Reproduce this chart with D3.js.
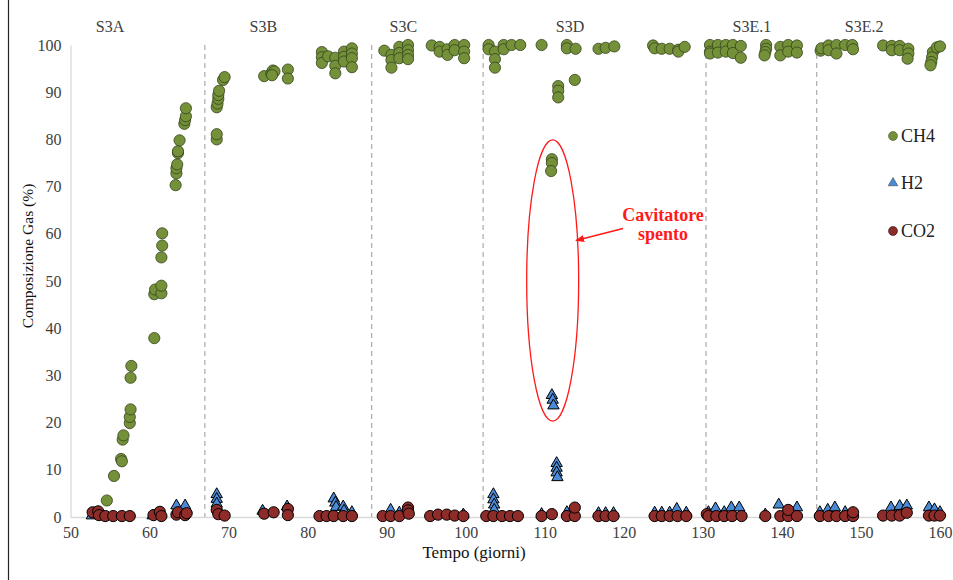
<!DOCTYPE html>
<html><head><meta charset="utf-8">
<script src="https://cdn.jsdelivr.net/npm/d3@7"></script>
<style>body{margin:0;background:#fff}svg{display:block}</style>
</head><body>
<svg id="chart" width="953" height="580"></svg>
<script>
// ---- data (day, %) ----
const ch4 = [
 [54.6,3.5],[55.5,8.7],[56.4,12.3],[56.5,11.8],[56.6,16.4],[56.7,17.3],[57.5,19.9],[57.5,21.2],[57.6,22.8],[57.6,29.5],[57.7,32.0],
 [60.6,37.9],[60.6,47.2],[60.7,48.2],[61.5,47.4],[61.5,49.0],[61.5,55.0],[61.6,57.5],[61.6,60.1],
 [63.3,70.3],[63.4,72.8],[63.4,73.9],[63.5,74.7],[63.6,77.1],[63.6,77.5],[63.8,79.8],[64.4,83.3],[64.5,84.1],[64.6,84.9],[64.6,86.6],
 [68.5,80.0],[68.5,81.1],[68.5,86.8],[68.6,87.6],[68.7,88.6],[68.7,89.4],[68.8,90.3],[69.3,92.6],[69.5,93.2],
 [74.5,93.4],[75.4,94.0],[75.6,94.6],[75.8,94.4],[75.5,93.6],[77.5,94.8],[77.5,92.9],
 [81.8,98.5],[81.8,97.4],[81.8,96.2],[82.6,97.6],[83.5,97.3],[83.5,95.6],[83.5,94.0],[84.6,98.6],[84.6,97.5],[84.6,96.5],
 [85.6,99.3],[85.6,98.2],[85.6,97.2],[85.6,95.3],
 [89.7,98.8],[90.6,97.9],[90.6,96.8],[90.6,95.2],[91.6,99.6],[91.6,98.3],[91.6,97.2],[92.7,100],[92.7,98.9],[92.7,97.9],[92.7,97.0],
 [95.7,99.9],[96.7,99.6],[96.7,98.6],[97.7,99.1],[97.7,97.9],[98.6,100],[98.6,98.9],[99.8,100],[99.8,98.6],[99.8,97.2],
 [102.9,100],[102.9,99.1],[103.7,98.6],[103.7,97.0],[103.7,95.2],[104.8,100],[104.8,99.1],[105.8,100],[106.9,100],[109.6,100],
 [110.9,75.8],[110.9,75.0],[110.8,73.3],[111.7,91.3],[111.7,90.3],[111.7,88.9],[113.8,92.6],[112.8,100],[112.8,99.3],[113.9,99.2],
 [116.8,99.2],[117.7,99.4],[118.8,99.7],[123.7,99.9],[123.9,99.3],[124.8,99.2],[125.8,99.2],[126.9,99.0],[126.9,98.6],[127.7,99.6],
 [130.9,100],[130.9,98.6],[130.9,98.2],[131.9,100],[131.9,98.4],[132.9,100],[132.9,98.6],[133.8,100],[133.8,98.3],[134.8,99.8],[134.8,97.3],
 [138.0,100],[138.0,99.2],[137.9,98.5],[137.8,97.8],[139.8,99.6],[139.8,97.8],[140.8,100],[140.8,98.6],[141.9,99.9],[141.9,98.4],
 [144.9,98.8],[145.0,99.3],[145.9,99.9],[145.9,98.9],[146.9,100],[146.9,98.2],[148.0,100],[148.9,100],[149.0,99.1],
 [152.8,99.9],[153.9,99.8],[153.9,98.9],[154.9,99.8],[154.9,98.9],[156.0,99.2],[156.0,98.2],[155.9,97.1],
 [159.1,98.5],[159.0,97.4],[158.9,96.4],[158.8,95.7],[159.6,99.5],[160.0,99.7]
];
const h2 = [
 [52.7,0.3],[60.4,0.3],[61.0,0.6],[63.4,2.4],[64.5,2.4],[68.5,4.8],[68.5,3.8],[68.5,2.8],[74.3,1.3],[77.4,2.2],
 [83.3,3.9],[83.5,3.0],[83.6,2.1],[84.5,2.2],[84.6,1.3],[85.6,1.0],[90.5,1.5],[91.6,0.9],[99.7,0.5],
 [103.5,4.8],[103.5,3.7],[103.6,2.6],[103.6,1.5],[109.6,0.6],[110.9,25.8],[111.0,24.8],[111.1,23.6],
 [111.5,11.4],[111.5,10.4],[111.5,9.4],[111.6,8.4],[112.8,1.0],[116.8,0.8],[117.7,0.8],[118.7,0.8],
 [123.9,0.9],[124.8,0.9],[125.8,0.9],[126.7,1.7],[127.9,0.9],[130.7,1.0],[131.6,1.8],[132.7,1.0],[133.6,2.0],[134.6,2.0],
 [137.9,0.5],[139.6,2.6],[141.9,2.0],[144.8,1.0],[145.8,1.5],[146.7,2.0],[148.0,1.0],[153.8,2.0],[154.9,2.3],[155.8,2.4],
 [158.6,2.0],[159.3,1.6],[160.0,1.0]
];
const co2 = [
 [52.8,1.0],[53.5,1.2],[53.6,0.4],[54.4,0.2],[55.4,0.2],[56.5,0.2],[57.5,0.2],[60.5,0.4],[61.3,1.1],[61.5,0.2],
 [63.4,0.5],[63.6,1.0],[64.5,0.4],[64.7,0.8],[68.5,1.5],[68.7,0.6],[69.5,0.3],[74.5,0.7],[75.7,1.0],[77.5,1.7],[77.5,0.4],
 [81.5,0.2],[82.4,0.2],[83.3,0.2],[84.5,0.2],[85.6,0.2],[89.5,0.2],[90.5,0.2],[91.6,0.2],[92.7,2.0],[92.7,1.4],[92.8,0.7],
 [95.5,0.2],[96.5,0.5],[97.6,0.5],[98.6,0.3],[99.7,0.2],[102.6,0.2],[103.5,0.2],[104.6,0.2],[105.6,0.2],[106.6,0.2],
 [109.6,0.2],[110.9,0.6],[112.8,0.2],[113.8,0.2],[113.8,2.0],[116.8,0.2],[117.7,0.2],[118.7,0.2],
 [123.9,0.2],[124.8,0.2],[125.8,0.2],[126.8,0.2],[127.9,0.2],[130.5,0.6],[130.7,0.2],[131.7,0.2],[132.7,0.2],[133.7,0.2],[134.9,0.2],
 [137.9,0.2],[139.8,0.2],[140.8,0.2],[140.8,1.5],[141.9,0.2],[144.8,0.2],[145.9,0.2],[146.9,0.2],[148.0,0.2],[149.0,0.2],[149.0,1.0],
 [152.8,0.3],[153.9,0.3],[154.9,0.3],[155.8,0.9],[158.6,0.3],[159.3,0.3],[160.0,0.3]
];
const seriesNames = ["CH4","H2","CO2"];
const phaseNames = ["S3A","S3B","S3C","S3D","S3E.1","S3E.2"];
const phaseLabelDays = [55.0,74.4,92.1,113.2,136.2,150.4];
const phaseBoundaries = [67.0,88.1,102.2,130.4,144.4];
const xTicks = [50,60,70,80,90,100,110,120,130,140,150,160];
const yTicks = [0,10,20,30,40,50,60,70,80,90,100];

// ---- layout ----
const W = 953, H = 580;
const m = {left:70.5, right:13, top:45, bottom:63};
const svg = d3.select("#chart");
const font = "'Liberation Serif','Times New Roman',serif";
const x = d3.scaleLinear().domain([50,160]).range([m.left, W - m.right]);
const y = d3.scaleLinear().domain([0,100]).range([H - m.bottom, m.top]);

// frame line on the left
svg.append("line").attr("x1",8.5).attr("x2",8.5).attr("y1",0).attr("y2",H).attr("stroke","#222").attr("stroke-width",1.2);

// axes
const xAxis = svg.append("g").attr("transform",`translate(0,${y(0)})`)
  .call(d3.axisBottom(x).tickValues(xTicks).tickSize(0).tickPadding(10).tickFormat(d3.format("d")));
const yAxis = svg.append("g").attr("transform",`translate(${x(50)},0)`)
  .call(d3.axisLeft(y).tickValues(yTicks).tickSize(0).tickPadding(9).tickFormat(d3.format("d")));
[xAxis,yAxis].forEach(g=>{
  g.select(".domain").attr("stroke","#d9d9d9").attr("stroke-width",1.3);
  g.selectAll("text").attr("font-family",font).attr("font-size",16).attr("fill","#404040");
});

// phase dividers
svg.append("g").selectAll("line").data(phaseBoundaries).join("line")
  .attr("x1",d=>x(d)).attr("x2",d=>x(d)).attr("y1",y(100)).attr("y2",y(0))
  .attr("stroke","#b0b0b0").attr("stroke-width",1.3).attr("stroke-dasharray","5,4");

svg.append("g").selectAll("text").data(phaseNames).join("text")
  .attr("x",(d,i)=>x(phaseLabelDays[i])).attr("y",32)
  .attr("text-anchor","middle").attr("font-family",font).attr("font-size",16).attr("fill","#404040")
  .text(d=>d);

// axis titles
svg.append("text").attr("transform",`translate(33,256) rotate(-90)`)
  .attr("text-anchor","middle").attr("font-family",font).attr("font-size",15.5).attr("fill","#111")
  .text("Composizione Gas (%)");
svg.append("text").attr("x",474).attr("y",558).attr("text-anchor","middle")
  .attr("font-family",font).attr("font-size",17).attr("fill","#111").text("Tempo (giorni)");

// markers
const colors = {CH4:"#74913a", H2:"#4a8ad6", CO2:"#8e2c2a"};
const strokes = {CH4:"#33421a", H2:"#000", CO2:"#000"};
const tri = d3.symbol().type(d3.symbolTriangle).size(56);

svg.append("g").selectAll("circle").data(ch4).join("circle")
  .attr("cx",d=>x(d[0])).attr("cy",d=>y(d[1])).attr("r",5.6)
  .attr("fill",colors.CH4).attr("stroke",strokes.CH4).attr("stroke-width",0.8);
svg.append("g").selectAll("path").data(h2).join("path")
  .attr("d",tri).attr("transform",d=>`translate(${x(d[0])},${y(d[1])})`)
  .attr("fill",colors.H2).attr("stroke",strokes.H2).attr("stroke-width",1);
svg.append("g").selectAll("circle").data(co2).join("circle")
  .attr("cx",d=>x(d[0])).attr("cy",d=>y(d[1])).attr("r",5.6)
  .attr("fill",colors.CO2).attr("stroke",strokes.CO2).attr("stroke-width",1);

// legend
const leg = svg.append("g");
const legY = [136,183,231];
seriesNames.forEach((s,i)=>{
  if(s==="H2"){
    leg.append("path").attr("d",d3.symbol().type(d3.symbolTriangle).size(40)())
      .attr("transform",`translate(893,${legY[i]})`).attr("fill",colors.H2).attr("stroke","#333").attr("stroke-width",0.5);
  } else {
    leg.append("circle").attr("cx",893).attr("cy",legY[i]).attr("r",4.5).attr("fill",colors[s]).attr("stroke",strokes[s]).attr("stroke-width",0.5);
  }
  leg.append("text").attr("x",901).attr("y",legY[i]+6).attr("font-family",font).attr("font-size",18).attr("fill","#222").text(s);
});

// annotation: ellipse + arrow + text
const ann = svg.append("g");
ann.append("ellipse").attr("cx",x(111.0)).attr("cy",y(50.1)).attr("rx",26).attr("ry",(y(20.3)-y(79.9))/2)
  .attr("fill","none").attr("stroke","#ff1a1a").attr("stroke-width",1.3);
svg.append("defs").append("marker").attr("id","arr").attr("viewBox","0 0 10 10").attr("refX",9).attr("refY",5)
  .attr("markerWidth",7).attr("markerHeight",7).attr("orient","auto")
  .append("path").attr("d","M0,1 L10,5 L0,9 z").attr("fill","#ff1a1a");
ann.append("line").attr("x1",623).attr("y1",228.5).attr("x2",576).attr("y2",240.5)
  .attr("stroke","#ff1a1a").attr("stroke-width",1.3).attr("marker-end","url(#arr)");
ann.append("text").attr("x",663).attr("y",221).attr("text-anchor","middle").attr("font-family",font)
  .attr("font-weight","bold").attr("font-size",18).attr("fill","#ff1a1a").text("Cavitatore");
ann.append("text").attr("x",663).attr("y",240).attr("text-anchor","middle").attr("font-family",font)
  .attr("font-weight","bold").attr("font-size",18).attr("fill","#ff1a1a").text("spento");
</script>
</body></html>
